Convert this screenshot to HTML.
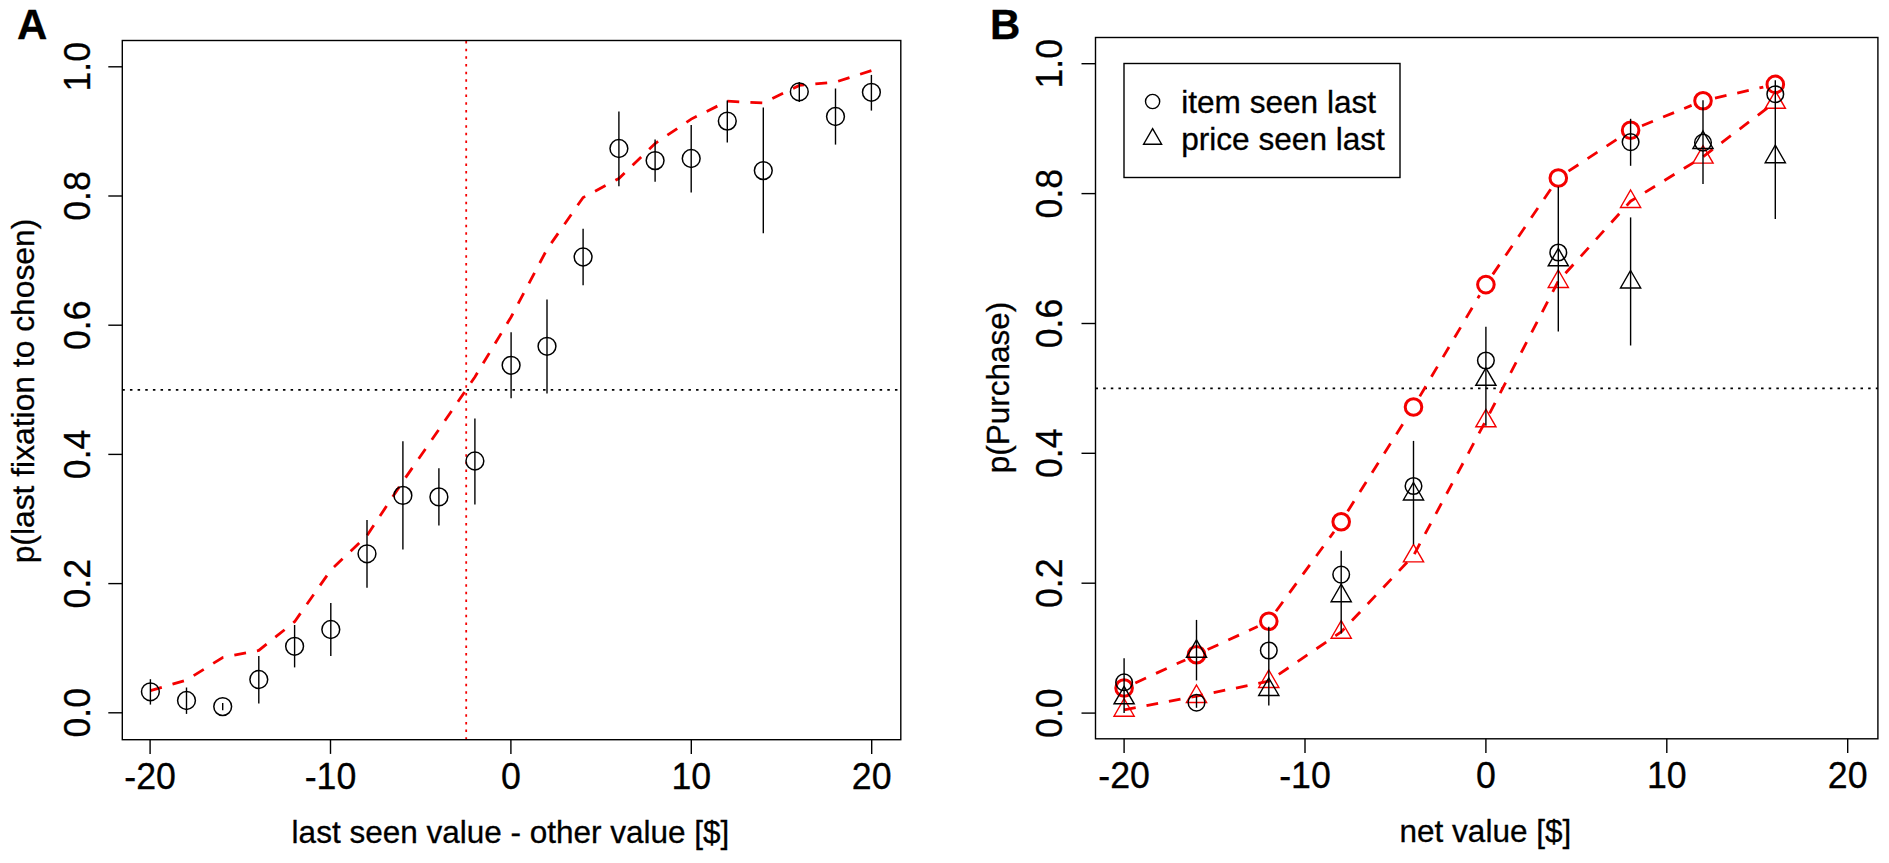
<!DOCTYPE html>
<html><head><meta charset="utf-8"><title>Figure</title>
<style>html,body{margin:0;padding:0;background:#fff;}svg{display:block;}text{font-family:"Liberation Sans", Arial, Helvetica, sans-serif;fill:#000;stroke:#000;stroke-width:0.3px;}</style></head><body>
<svg width="1889" height="863" viewBox="0 0 1889 863">
<rect width="1889" height="863" fill="#fff"/>
<g id="panelA" fill="none" stroke="#000" stroke-width="1.40">
<line x1="122.3" y1="389.8" x2="900.8" y2="389.8" stroke-width="1.8" stroke-dasharray="2.5 5.15"/>
<line x1="466.2" y1="739.7" x2="466.2" y2="40.5" stroke="#f40000" stroke-width="1.8" stroke-dasharray="2.5 5.15"/>
<polyline stroke="#f40000" stroke-width="2.8" stroke-dasharray="11.9 11.14" points="150.4,690.7 186.5,680.1 222.7,657.5 258.8,650.4 294.6,621.7 330.8,570.1 367.0,535.5 402.9,481.5 438.9,429.5 474.9,377.0 511.1,317.0 547.0,249.3 583.1,197.5 618.9,178.5 655.1,143.5 691.2,119.1 727.3,101.2 763.3,103.0 799.3,85.4 835.5,82.1 871.4,70.6"/>
<line x1="150.4" y1="679.2" x2="150.4" y2="704.6"/>
<line x1="186.5" y1="687.5" x2="186.5" y2="713.9"/>
<line x1="222.7" y1="702.9" x2="222.7" y2="710.3"/>
<line x1="258.8" y1="656.0" x2="258.8" y2="703.4"/>
<line x1="294.6" y1="625.0" x2="294.6" y2="667.4"/>
<line x1="330.8" y1="603.0" x2="330.8" y2="656.0"/>
<line x1="367.0" y1="520.0" x2="367.0" y2="587.7"/>
<line x1="402.9" y1="441.3" x2="402.9" y2="549.6"/>
<line x1="438.9" y1="468.2" x2="438.9" y2="525.5"/>
<line x1="474.9" y1="418.4" x2="474.9" y2="504.4"/>
<line x1="511.1" y1="332.3" x2="511.1" y2="398.3"/>
<line x1="547.0" y1="299.5" x2="547.0" y2="393.5"/>
<line x1="583.1" y1="228.8" x2="583.1" y2="285.3"/>
<line x1="618.9" y1="111.4" x2="618.9" y2="186.2"/>
<line x1="655.1" y1="139.5" x2="655.1" y2="181.7"/>
<line x1="691.2" y1="125.0" x2="691.2" y2="192.4"/>
<line x1="727.3" y1="100.4" x2="727.3" y2="142.5"/>
<line x1="763.3" y1="107.6" x2="763.3" y2="233.3"/>
<line x1="799.3" y1="82.1" x2="799.3" y2="102.0"/>
<line x1="835.5" y1="88.5" x2="835.5" y2="144.6"/>
<line x1="871.4" y1="74.9" x2="871.4" y2="110.6"/>
<circle cx="150.4" cy="691.8" r="8.9" stroke-width="1.5"/>
<circle cx="186.5" cy="700.5" r="8.9" stroke-width="1.5"/>
<circle cx="222.7" cy="706.6" r="8.9" stroke-width="1.5"/>
<circle cx="258.8" cy="679.5" r="8.9" stroke-width="1.5"/>
<circle cx="294.6" cy="646.3" r="8.9" stroke-width="1.5"/>
<circle cx="330.8" cy="629.5" r="8.9" stroke-width="1.5"/>
<circle cx="367.0" cy="553.8" r="8.9" stroke-width="1.5"/>
<circle cx="402.9" cy="495.4" r="8.9" stroke-width="1.5"/>
<circle cx="438.9" cy="496.9" r="8.9" stroke-width="1.5"/>
<circle cx="474.9" cy="461.0" r="8.9" stroke-width="1.5"/>
<circle cx="511.1" cy="365.3" r="8.9" stroke-width="1.5"/>
<circle cx="547.0" cy="346.3" r="8.9" stroke-width="1.5"/>
<circle cx="583.1" cy="257.0" r="8.9" stroke-width="1.5"/>
<circle cx="618.9" cy="148.5" r="8.9" stroke-width="1.5"/>
<circle cx="655.1" cy="160.6" r="8.9" stroke-width="1.5"/>
<circle cx="691.2" cy="158.5" r="8.9" stroke-width="1.5"/>
<circle cx="727.3" cy="121.1" r="8.9" stroke-width="1.5"/>
<circle cx="763.3" cy="170.6" r="8.9" stroke-width="1.5"/>
<circle cx="799.3" cy="91.8" r="8.9" stroke-width="1.5"/>
<circle cx="835.5" cy="116.5" r="8.9" stroke-width="1.5"/>
<circle cx="871.4" cy="92.3" r="8.9" stroke-width="1.5"/>
<rect x="122.3" y="40.5" width="778.5" height="699.2"/>
<line x1="150.1" y1="739.7" x2="150.1" y2="753.9000000000001"/>
<line x1="330.5" y1="739.7" x2="330.5" y2="753.9000000000001"/>
<line x1="510.9" y1="739.7" x2="510.9" y2="753.9000000000001"/>
<line x1="691.3" y1="739.7" x2="691.3" y2="753.9000000000001"/>
<line x1="871.7" y1="739.7" x2="871.7" y2="753.9000000000001"/>
<line x1="122.3" y1="712.8" x2="108.3" y2="712.8"/>
<line x1="122.3" y1="583.6" x2="108.3" y2="583.6"/>
<line x1="122.3" y1="454.4" x2="108.3" y2="454.4"/>
<line x1="122.3" y1="325.2" x2="108.3" y2="325.2"/>
<line x1="122.3" y1="196.0" x2="108.3" y2="196.0"/>
<line x1="122.3" y1="66.8" x2="108.3" y2="66.8"/>
</g>
<g id="labelsA" font-size="35.7" text-anchor="middle">
<text transform="translate(150.1,788.5) scale(1,1.04)">-20</text>
<text transform="translate(330.5,788.5) scale(1,1.04)">-10</text>
<text transform="translate(510.9,788.5) scale(1,1.04)">0</text>
<text transform="translate(691.3,788.5) scale(1,1.04)">10</text>
<text transform="translate(871.7,788.5) scale(1,1.04)">20</text>
<text transform="translate(89.6,712.8) rotate(-90) scale(1,1.04)">0.0</text>
<text transform="translate(89.6,583.6) rotate(-90) scale(1,1.04)">0.2</text>
<text transform="translate(89.6,454.4) rotate(-90) scale(1,1.04)">0.4</text>
<text transform="translate(89.6,325.2) rotate(-90) scale(1,1.04)">0.6</text>
<text transform="translate(89.6,196.0) rotate(-90) scale(1,1.04)">0.8</text>
<text transform="translate(89.6,66.8) rotate(-90) scale(1,1.04)">1.0</text>
</g>
<text x="510.5" y="843.2" font-size="31.5" text-anchor="middle">last seen value - other value [$]</text>
<text transform="translate(34.0,391.0) rotate(-90)" font-size="31.8" text-anchor="middle">p(last fixation to chosen)</text>
<text x="17" y="39" font-size="42" font-weight="bold">A</text>
<g id="panelB" fill="none" stroke="#000" stroke-width="1.40">
<line x1="1095.5" y1="388.4" x2="1877.9" y2="388.4" stroke-width="1.8" stroke-dasharray="2.5 5.15"/>
<line x1="1135.3" y1="682.9" x2="1185.3" y2="659.9" stroke="#f40000" stroke-width="2.8" stroke-dasharray="11.8 11.0"/>
<line x1="1207.6" y1="649.6" x2="1257.7" y2="626.5" stroke="#f40000" stroke-width="2.8" stroke-dasharray="11.8 11.0"/>
<line x1="1276.0" y1="611.3" x2="1334.0" y2="531.7" stroke="#f40000" stroke-width="2.8" stroke-dasharray="11.8 11.0"/>
<line x1="1347.7" y1="511.3" x2="1407.0" y2="417.4" stroke="#f40000" stroke-width="2.8" stroke-dasharray="11.8 11.0"/>
<line x1="1419.8" y1="396.4" x2="1479.6" y2="295.2" stroke="#f40000" stroke-width="2.8" stroke-dasharray="11.8 11.0"/>
<line x1="1492.8" y1="274.4" x2="1551.4" y2="188.2" stroke="#f40000" stroke-width="2.8" stroke-dasharray="11.8 11.0"/>
<line x1="1568.5" y1="171.2" x2="1620.4" y2="137.1" stroke="#f40000" stroke-width="2.8" stroke-dasharray="11.8 11.0"/>
<line x1="1642.0" y1="125.7" x2="1691.6" y2="105.4" stroke="#f40000" stroke-width="2.8" stroke-dasharray="11.8 11.0"/>
<line x1="1715.0" y1="98.1" x2="1763.3" y2="87.1" stroke="#f40000" stroke-width="2.8" stroke-dasharray="11.8 11.0"/>
<polyline stroke="#f40000" stroke-width="2.8" stroke-dasharray="11.8 11.0" points="1124.1,709.9 1196.5,696.2 1268.8,681.2 1341.2,631.9 1413.5,555.6 1485.9,420.5 1558.3,281.2 1630.6,201.2 1703.0,156.8 1775.3,102.0"/>
<circle cx="1124.1" cy="688.0" r="8.3" stroke="#f40000" stroke-width="3"/>
<circle cx="1196.5" cy="654.8" r="8.3" stroke="#f40000" stroke-width="3"/>
<circle cx="1268.8" cy="621.3" r="8.3" stroke="#f40000" stroke-width="3"/>
<circle cx="1341.2" cy="521.7" r="8.3" stroke="#f40000" stroke-width="3"/>
<circle cx="1413.5" cy="407.0" r="8.3" stroke="#f40000" stroke-width="3"/>
<circle cx="1485.9" cy="284.6" r="8.3" stroke="#f40000" stroke-width="3"/>
<circle cx="1558.3" cy="178.0" r="8.3" stroke="#f40000" stroke-width="3"/>
<circle cx="1630.6" cy="130.3" r="8.3" stroke="#f40000" stroke-width="3"/>
<circle cx="1703.0" cy="100.8" r="8.3" stroke="#f40000" stroke-width="3"/>
<circle cx="1775.3" cy="84.4" r="8.3" stroke="#f40000" stroke-width="3"/>
<polygon points="1124.1,698.7 1134.2,716.2 1114.0,716.2" stroke="#f40000" stroke-width="1.4"/>
<polygon points="1196.5,685.0 1206.6,702.5 1186.4,702.5" stroke="#f40000" stroke-width="1.4"/>
<polygon points="1268.8,670.0 1278.9,687.5 1258.7,687.5" stroke="#f40000" stroke-width="1.4"/>
<polygon points="1341.2,620.7 1351.3,638.2 1331.1,638.2" stroke="#f40000" stroke-width="1.4"/>
<polygon points="1413.5,544.4 1423.6,561.9 1403.4,561.9" stroke="#f40000" stroke-width="1.4"/>
<polygon points="1485.9,409.3 1496.0,426.8 1475.8,426.8" stroke="#f40000" stroke-width="1.4"/>
<polygon points="1558.3,270.0 1568.4,287.5 1548.2,287.5" stroke="#f40000" stroke-width="1.4"/>
<polygon points="1630.6,190.0 1640.7,207.5 1620.5,207.5" stroke="#f40000" stroke-width="1.4"/>
<polygon points="1703.0,145.6 1713.1,163.1 1692.9,163.1" stroke="#f40000" stroke-width="1.4"/>
<polygon points="1775.3,90.8 1785.4,108.3 1765.2,108.3" stroke="#f40000" stroke-width="1.4"/>
<line x1="1124.1" y1="658.3" x2="1124.1" y2="712.9"/>
<line x1="1196.5" y1="619.9" x2="1196.5" y2="680.4"/>
<line x1="1196.5" y1="696.3" x2="1196.5" y2="707.8"/>
<line x1="1268.8" y1="626.7" x2="1268.8" y2="705.6"/>
<line x1="1341.2" y1="550.7" x2="1341.2" y2="633.6"/>
<line x1="1413.5" y1="440.9" x2="1413.5" y2="544.4"/>
<line x1="1485.9" y1="326.8" x2="1485.9" y2="425.8"/>
<line x1="1558.3" y1="186.7" x2="1558.3" y2="331.5"/>
<line x1="1630.6" y1="118.8" x2="1630.6" y2="165.8"/>
<line x1="1630.6" y1="217.4" x2="1630.6" y2="345.5"/>
<line x1="1703.0" y1="100.3" x2="1703.0" y2="183.9"/>
<line x1="1775.3" y1="80.3" x2="1775.3" y2="219.0"/>
<circle cx="1124.1" cy="682.3" r="8.3" stroke-width="1.5"/>
<circle cx="1196.5" cy="702.7" r="8.3" stroke-width="1.5"/>
<circle cx="1268.8" cy="650.5" r="8.3" stroke-width="1.5"/>
<circle cx="1341.2" cy="574.6" r="8.3" stroke-width="1.5"/>
<circle cx="1413.5" cy="486.0" r="8.3" stroke-width="1.5"/>
<circle cx="1485.9" cy="360.5" r="8.3" stroke-width="1.5"/>
<circle cx="1558.3" cy="252.5" r="8.3" stroke-width="1.5"/>
<circle cx="1630.6" cy="142.1" r="8.3" stroke-width="1.5"/>
<circle cx="1703.0" cy="142.6" r="8.3" stroke-width="1.5"/>
<circle cx="1775.3" cy="94.2" r="8.3" stroke-width="1.5"/>
<polygon points="1124.1,686.3 1134.2,703.8 1114.0,703.8" stroke="#000" stroke-width="1.4"/>
<polygon points="1196.5,639.8 1206.6,657.3 1186.4,657.3" stroke="#000" stroke-width="1.4"/>
<polygon points="1268.8,678.0 1278.9,695.5 1258.7,695.5" stroke="#000" stroke-width="1.4"/>
<polygon points="1341.2,584.2 1351.3,601.7 1331.1,601.7" stroke="#000" stroke-width="1.4"/>
<polygon points="1413.5,482.5 1423.6,500.0 1403.4,500.0" stroke="#000" stroke-width="1.4"/>
<polygon points="1485.9,367.8 1496.0,385.3 1475.8,385.3" stroke="#000" stroke-width="1.4"/>
<polygon points="1558.3,248.3 1568.4,265.8 1548.2,265.8" stroke="#000" stroke-width="1.4"/>
<polygon points="1630.6,270.5 1640.7,288.0 1620.5,288.0" stroke="#000" stroke-width="1.4"/>
<polygon points="1703.0,131.0 1713.1,148.5 1692.9,148.5" stroke="#000" stroke-width="1.4"/>
<polygon points="1775.3,145.2 1785.4,162.7 1765.2,162.7" stroke="#000" stroke-width="1.4"/>
<rect x="1095.5" y="37.5" width="782.4" height="701.3"/>
<line x1="1124.1" y1="738.8" x2="1124.1" y2="753.0"/>
<line x1="1305.0" y1="738.8" x2="1305.0" y2="753.0"/>
<line x1="1485.9" y1="738.8" x2="1485.9" y2="753.0"/>
<line x1="1666.8" y1="738.8" x2="1666.8" y2="753.0"/>
<line x1="1847.7" y1="738.8" x2="1847.7" y2="753.0"/>
<line x1="1095.5" y1="713.1" x2="1081.5" y2="713.1"/>
<line x1="1095.5" y1="583.2" x2="1081.5" y2="583.2"/>
<line x1="1095.5" y1="453.3" x2="1081.5" y2="453.3"/>
<line x1="1095.5" y1="323.5" x2="1081.5" y2="323.5"/>
<line x1="1095.5" y1="193.6" x2="1081.5" y2="193.6"/>
<line x1="1095.5" y1="63.7" x2="1081.5" y2="63.7"/>
<rect x="1124" y="63.5" width="276" height="114" fill="#fff"/>
<circle cx="1152.6" cy="101.5" r="7.1"/>
<polygon points="1152.6,128.6 1161.6,144.2 1143.6,144.2" stroke="#000" stroke-width="1.4"/>
</g>
<g id="labelsB" font-size="35.7" text-anchor="middle">
<text transform="translate(1124.1,787.8) scale(1,1.04)">-20</text>
<text transform="translate(1305.0,787.8) scale(1,1.04)">-10</text>
<text transform="translate(1485.9,787.8) scale(1,1.04)">0</text>
<text transform="translate(1666.8,787.8) scale(1,1.04)">10</text>
<text transform="translate(1847.7,787.8) scale(1,1.04)">20</text>
<text transform="translate(1062.0,713.1) rotate(-90) scale(1,1.04)">0.0</text>
<text transform="translate(1062.0,583.2) rotate(-90) scale(1,1.04)">0.2</text>
<text transform="translate(1062.0,453.3) rotate(-90) scale(1,1.04)">0.4</text>
<text transform="translate(1062.0,323.5) rotate(-90) scale(1,1.04)">0.6</text>
<text transform="translate(1062.0,193.6) rotate(-90) scale(1,1.04)">0.8</text>
<text transform="translate(1062.0,63.7) rotate(-90) scale(1,1.04)">1.0</text>
</g>
<text x="1181.2" y="113" font-size="31.6">item seen last</text>
<text x="1181.2" y="150" font-size="31.6">price seen last</text>
<text x="1485.4" y="841.9" font-size="31.5" text-anchor="middle">net value [$]</text>
<text transform="translate(1009,387.5) rotate(-90)" font-size="31.5" text-anchor="middle">p(Purchase)</text>
<text x="990" y="39" font-size="42" font-weight="bold">B</text>
</svg></body></html>
